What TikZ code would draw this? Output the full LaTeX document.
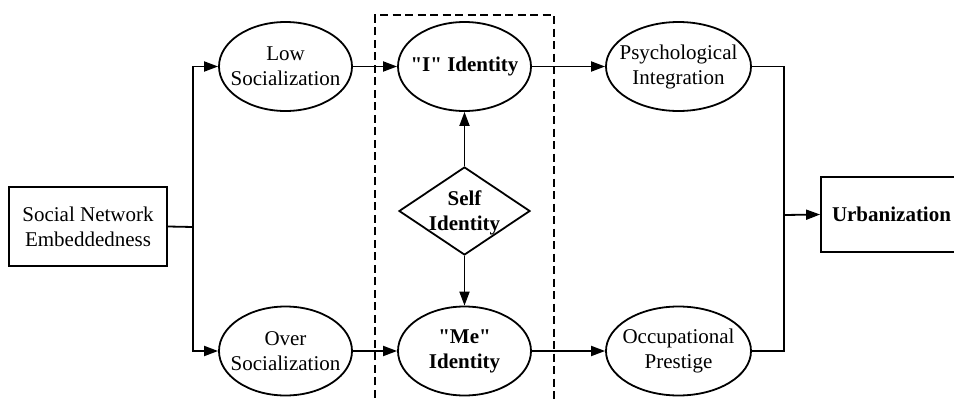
\documentclass[tikz,border=0pt]{standalone}
\usepackage{fontspec}
\setmainfont{Liberation Serif}
\usetikzlibrary{shapes.geometric,arrows.meta}
\begin{document}
\begin{tikzpicture}[x=1pt,y=-1pt,
  every node/.style={font=\fontsize{21}{25}\selectfont},
  line/.style={line width=1.8pt},
  arr/.style={line, -{Triangle[length=14pt,width=10pt]}},
  oval/.style={draw, line width=1.8pt, ellipse, inner sep=0pt, minimum width=133pt, minimum height=89pt},
  txt/.style={align=center, inner sep=0pt, font=\fontsize{21}{25}\selectfont},
  btxt/.style={align=center, inner sep=0pt, font=\fontsize{21}{25}\selectfont\bfseries},
  box/.style={draw, line width=1.8pt, rectangle, inner sep=0pt, align=center},
  dashbox/.style={line width=1.8pt, dash pattern=on 8pt off 4.5pt}
]
\useasboundingbox (0,0) rectangle (954,399);
% dashed frame
\draw[dashbox] (375,410) -- (375,15) -- (554,15) -- (554,410);
% nodes
\node[box, minimum width=158pt, minimum height=79pt] (sne) at (88,226.5) {Social Network\\Embeddedness};
\node[oval, label={[txt]center:Low\\Socialization}] (low) at (285.5,66.5) {};
\node[oval, label={[txt]center:Over\\Socialization}] (over) at (285.5,351) {};
\node[oval, label={[btxt]center:\textquotedbl I\textquotedbl{} Identity}] (iid) at (464.5,66.5) {};
\node[oval, label={[btxt]center:\textquotedbl Me\textquotedbl\\Identity}] (me) at (464.5,351) {};
\node[draw, line width=1.8pt, diamond, inner sep=0pt, minimum width=131pt, minimum height=88pt,
      label={[btxt, yshift=-2pt]center:Self\\Identity}] (self) at (464.5,211) {};
\node[oval, minimum width=145pt, label={[txt]center:Psychological\\Integration}] (psy) at (678.5,66.5) {};
\node[oval, minimum width=145pt, label={[txt]center:Occupational\\Prestige}] (occ) at (678.5,351) {};
\node[box, minimum width=141pt, minimum height=75pt, font=\fontsize{21}{25}\selectfont\bfseries] (urb) at (891.5,214.5) {Urbanization};
% connectors
\coordinate (jl) at (193,227);
\coordinate (jr) at (784,215);
\draw[line] (sne.east) -- (jl);
\draw[arr] (jl) |- (low.west);
\draw[arr] (jl) |- (over.west);
\draw[arr] (low.east) -- (iid.west);
\draw[arr] (over.east) -- (me.west);
\draw[arr] (iid.east) -- (psy.west);
\draw[arr] (me.east) -- (occ.west);
\draw[arr] (self.north) -- (iid.south);
\draw[arr] (self.south) -- (me.north);
\draw[line] (psy.east) -| (jr);
\draw[line] (occ.east) -| (jr);
\draw[arr] (jr) -- (urb.west);
\end{tikzpicture}
\end{document}
